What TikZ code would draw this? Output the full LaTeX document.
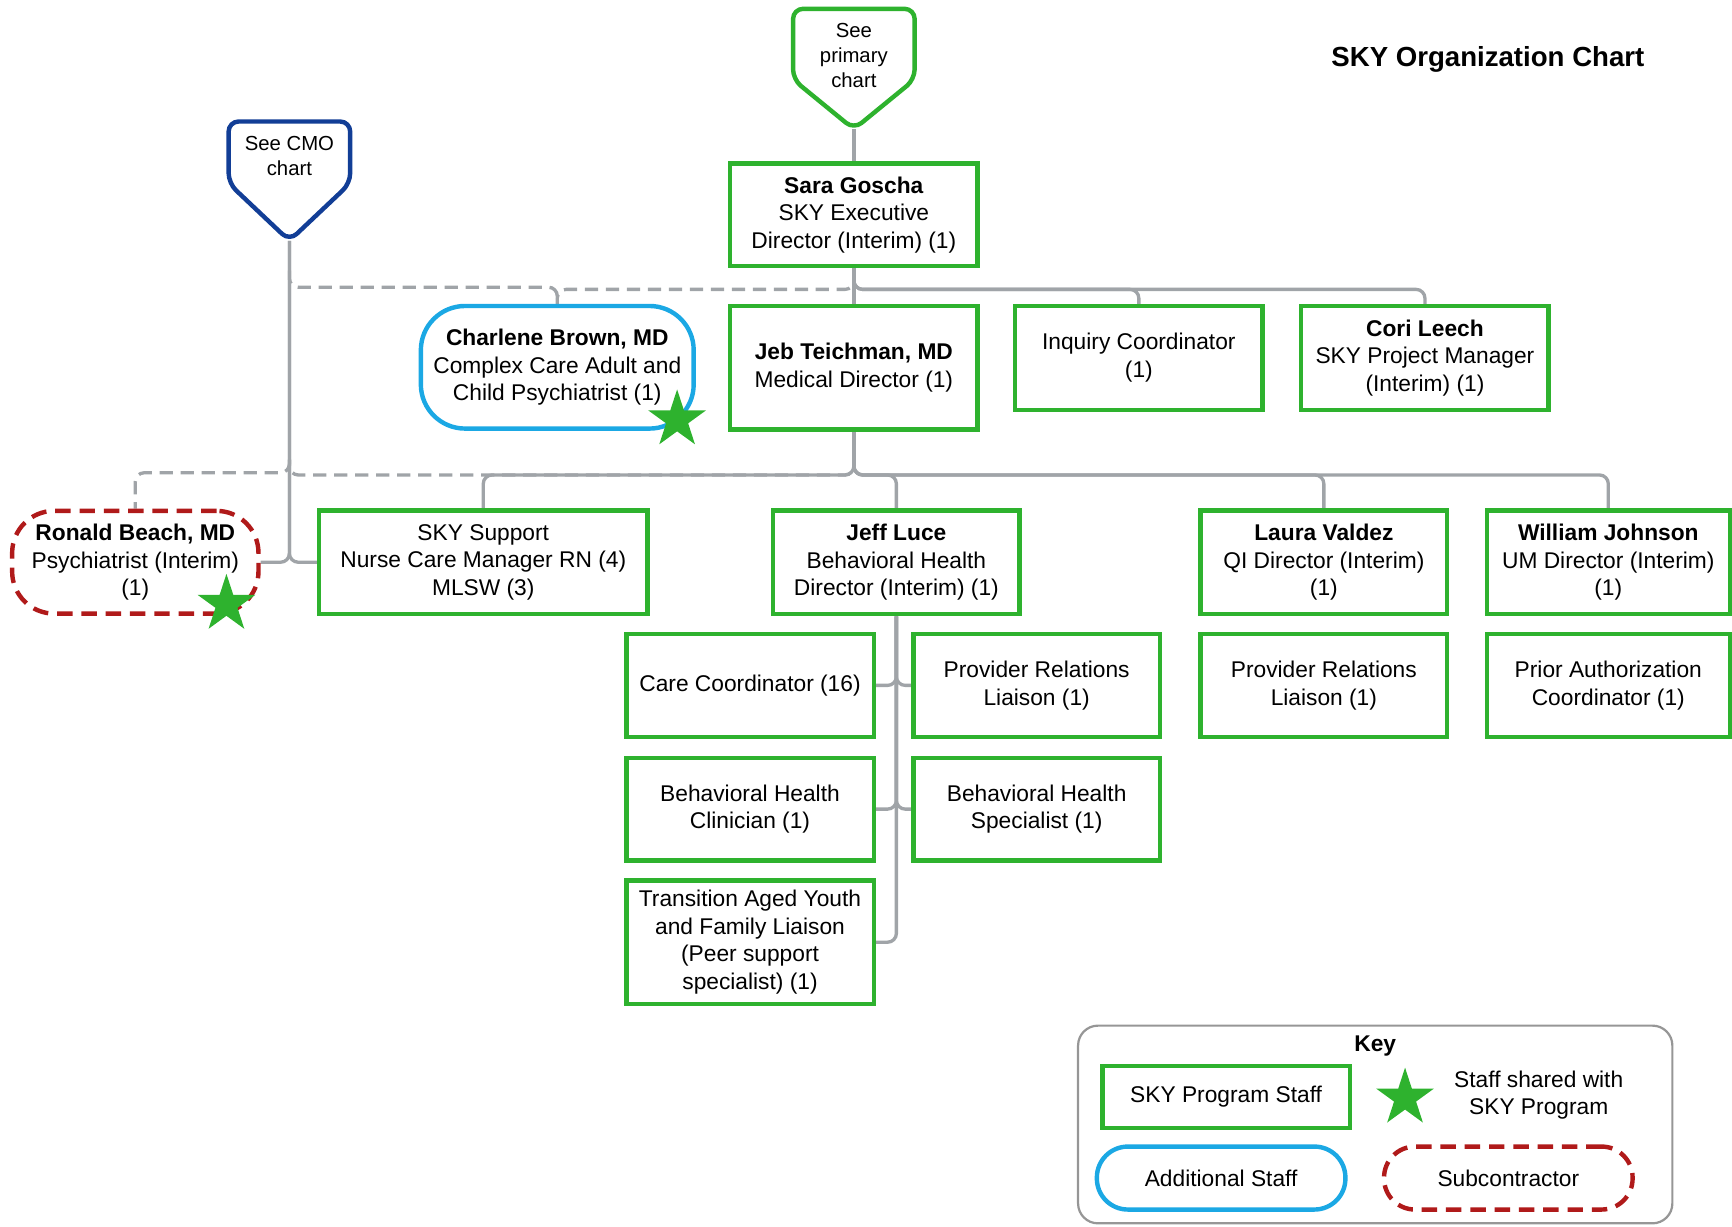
\documentclass[tikz,border=0pt]{standalone}
\usepackage{fontspec}
\setmainfont{Liberation Sans}
\usetikzlibrary{shapes.geometric}
\usetikzlibrary{backgrounds}

\definecolor{skygreen}{RGB}{46,178,46}
\definecolor{addblue}{RGB}{27,168,228}
\definecolor{cmoblue}{RGB}{18,62,150}
\definecolor{subred}{RGB}{176,26,26}
\definecolor{linegray}{RGB}{160,164,168}
\definecolor{keygray}{RGB}{150,150,150}

\newcommand{\chartfont}{\fontsize{20.6}{25}\selectfont}
\newcommand{\seefont}{\fontsize{18.4}{22.5}\selectfont}
\newcommand{\titlefont}{\fontsize{25}{30}\selectfont\bfseries}

\tikzset{
  pbox/.style={rectangle, draw=skygreen, line width=4pt, fill=white, inner sep=0pt, align=center, font=\chartfont},
  abox/.style={pbox, draw=addblue, rounded corners=#1},
  sbox/.style={pbox, draw=subred, dash pattern=on 14pt off 8pt, rounded corners=#1},
  link/.style={draw=linegray, line width=3pt, rounded corners=8pt},
  dlink/.style={link, dash pattern=on 12pt off 7pt},
  shared/.style={star, star points=5, star point ratio=2.62, fill=skygreen, inner sep=0pt, minimum size=55pt},
  seechart/.style={line width=4pt, fill=white, rounded corners=9pt, line join=round}
}

\begin{document}
\begin{tikzpicture}[x=1pt, y=-1pt]
      \useasboundingbox (0,0) rectangle (1568,1110);

      \draw[seechart, draw=skygreen] (773,8) -- (828,8) -- (828,72) -- (773,117) -- (718,72) -- (718,8) -- cycle;
      \coordinate (primtip) at (773,117);
      \node[font=\seefont, align=center] (primary) at (773,50) {See\\primary\\chart};

      \draw[seechart, draw=cmoblue] (262,110) -- (317,110) -- (317,166) -- (262,218) -- (207,166) -- (207,110) -- cycle;
      \coordinate (cmotip) at (262,218);
      \node[font=\seefont, align=center] (cmo) at (262,141.5) {See CMO\\chart};

      \node[font=\titlefont] (title) at (1347,54) {SKY Organization Chart};

      \node[pbox, minimum width=224pt, minimum height=93pt] (sara) at (773,194.5) {\textbf{Sara Goscha}\\SKY Executive\\Director (Interim) (1)};
      \node[abox=40pt, minimum width=247pt, minimum height=111pt] (charlene) at (504.5,332.5) {\textbf{Charlene Brown, MD}\\Complex Care Adult and\\Child Psychiatrist (1)};
      \node[pbox, minimum width=224pt, minimum height=112pt] (jeb) at (773,333) {\textbf{Jeb Teichman, MD}\\Medical Director (1)};
      \node[pbox, minimum width=224pt, minimum height=94pt] (inquiry) at (1031,324) {Inquiry Coordinator\\(1)};
      \node[pbox, minimum width=224pt, minimum height=94pt] (cori) at (1290,324) {\textbf{Cori Leech}\\SKY Project Manager\\(Interim) (1)};

      \node[sbox=38pt, minimum width=223pt, minimum height=93pt] (ronald) at (122.5,509) {\textbf{Ronald Beach, MD}\\Psychiatrist (Interim)\\(1)};
      \node[pbox, minimum width=297pt, minimum height=94pt] (support) at (437.5,509) {SKY Support\\Nurse Care Manager RN (4)\\MLSW (3)};
      \node[pbox, minimum width=223pt, minimum height=94pt] (jeff) at (811.5,509) {\textbf{Jeff Luce}\\Behavioral Health\\Director (Interim) (1)};
      \node[pbox, minimum width=223pt, minimum height=94pt] (laura) at (1198.5,509) {\textbf{Laura Valdez}\\QI Director (Interim)\\(1)};
      \node[pbox, minimum width=220pt, minimum height=94pt] (william) at (1456,509) {\textbf{William Johnson}\\UM Director (Interim)\\(1)};

      \node[pbox, minimum width=224pt, minimum height=93pt] (care) at (679,620.5) {Care Coordinator (16)};
      \node[pbox, minimum width=223pt, minimum height=93pt] (prov1) at (938.5,620.5) {Provider Relations\\Liaison (1)};
      \node[pbox, minimum width=224pt, minimum height=93pt] (clin) at (679,732.5) {Behavioral Health\\Clinician (1)};
      \node[pbox, minimum width=223pt, minimum height=93pt] (spec) at (938.5,732.5) {Behavioral Health\\Specialist (1)};
      \node[pbox, minimum width=224pt, minimum height=112pt] (trans) at (679,853) {Transition Aged Youth\\and Family Liaison\\(Peer support\\specialist) (1)};
      \node[pbox, minimum width=223pt, minimum height=93pt] (prov2) at (1198.5,620.5) {Provider Relations\\Liaison (1)};
      \node[pbox, minimum width=220pt, minimum height=93pt] (prior) at (1456,620.5) {Prior Authorization\\Coordinator (1)};

      \node[shared] (star1) at (613,380) {};
      \node[shared] (star2) at (205,547) {};

      \coordinate (cmoa) at (262,245);
      \coordinate (cmob) at (262,416);

      \begin{scope}[on background layer]
        \draw[link] (primtip) -- (sara.north);
        \draw[dlink] (cmoa) -- ++(0,15) -| (charlene.north);
        \draw[dlink] (sara.south) -- ++(0,19) -| (charlene.north);
        \draw[link] (sara.south) -- (jeb.north);
        \draw[link] (sara.south) -- ++(0,19) -| (inquiry.north);
        \draw[link] (sara.south) -- ++(0,19) -| (cori.north);

        \draw[dlink] (jeb.south) -- ++(0,39) -| (cmob);
        \draw[dlink] (cmob) -- ++(0,12) -| (ronald.north);
        \draw[link] (jeb.south) -- ++(0,39) -| (support.north);
        \draw[link] (jeb.south) -- ++(0,39) -| (jeff.north);
        \draw[link] (jeb.south) -- ++(0,39) -| (laura.north);
        \draw[link] (jeb.south) -- ++(0,39) -| (william.north);

        \draw[link] (cmotip) |- (ronald.east);
        \draw[link] (cmotip) |- (support.west);

        \draw[link] (jeff.south) |- (care.east);
        \draw[link] (jeff.south) |- (prov1.west);
        \draw[link] (jeff.south) |- (clin.east);
        \draw[link] (jeff.south) |- (spec.west);
        \draw[link] (jeff.south) |- (trans.east);
      \end{scope}

      \node[draw=keygray, line width=2pt, rounded corners=18pt, minimum width=538pt, minimum height=179pt] (keyframe) at (1245,1018) {};
      \node[font=\chartfont\bfseries] (keytitle) at (1245,947) {Key};
      \node[pbox, minimum width=224pt, minimum height=56pt] (keyprog) at (1110,993) {SKY Program Staff};
      \node[shared] (keystar) at (1272,994) {};
      \node[font=\chartfont, align=center] (keyshared) at (1393,991.5) {Staff shared with\\SKY Program};
      \node[abox=28pt, minimum width=225pt, minimum height=57pt] (keyadd) at (1105.5,1066.5) {Additional Staff};
      \node[sbox=28pt, minimum width=225pt, minimum height=57pt] (keysub) at (1365.5,1066.5) {Subcontractor};
\end{tikzpicture}
\end{document}
